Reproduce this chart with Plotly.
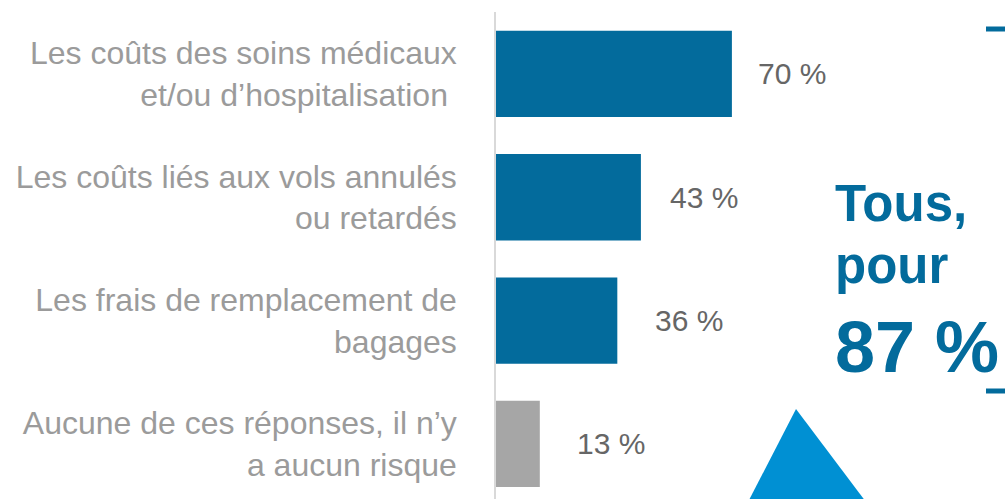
import plotly.graph_objects as go

categories = [
    "Les coûts des soins médicaux<br>et/ou d’hospitalisation\u00a0",
    "Les coûts liés aux vols annulés<br>ou retardés",
    "Les frais de remplacement de<br>bagages",
    "Aucune de ces réponses, il n’y<br>a aucun risque",
]
values = [70, 43, 36, 13]
value_labels = ["70 %", "43 %", "36 %", "13 %"]
callout_lines = ["Tous,", "pour", "87 %"]

W, H = 1005, 499
BLUE = "#036b9c"
GREY_BAR = "#a6a6a6"
TEXT_GREY = "#9b9b9b"
VALUE_GREY = "#666666"

bar_colors = [BLUE, BLUE, BLUE, GREY_BAR]
label_shift = [24, 27, 36, 35]

fig = go.Figure()
fig.add_trace(go.Bar(
    y=categories, x=values, orientation="h",
    marker=dict(color=bar_colors, line=dict(width=0)),
    hoverinfo="skip",
))

for c, v, t, s in zip(categories, values, value_labels, label_shift):
    fig.add_annotation(
        x=v, y=c, xref="x", yref="y", text=t, showarrow=False,
        xanchor="left", yanchor="middle", xshift=s,
        font=dict(family="Liberation Sans, Arial", size=30, color=VALUE_GREY),
    )

def px(xp):
    return xp / W

def py(yp):
    return 1 - yp / H

callout_specs = [(callout_lines[0], 203, 51), (callout_lines[1], 265, 51), (callout_lines[2], 347, 72)]
for text, yc, size in callout_specs:
    fig.add_annotation(
        x=px(833), y=py(yc), xref="paper", yref="paper", text=text,
        showarrow=False, xanchor="left", yanchor="middle",
        font=dict(family="Liberation Sans, Arial", size=size, color=BLUE, weight="bold"),
    )

# bracket ends
for yl in (29, 391):
    fig.add_shape(type="line", xref="paper", yref="paper",
                  x0=px(986), x1=px(1005), y0=py(yl), y1=py(yl),
                  line=dict(color=BLUE, width=5))

# triangle
fig.add_shape(type="path", xref="paper", yref="paper",
              path=f"M {px(796)} {py(409)} L {px(866)} {py(502)} L {px(748)} {py(502)} Z",
              fillcolor="#0090d3", line=dict(width=0))

fig.update_layout(
    width=W, height=H,
    margin=dict(l=0, r=0, t=0, b=0, autoexpand=False),
    paper_bgcolor="white", plot_bgcolor="white",
    showlegend=False,
    bargap=0.30,
    xaxis=dict(domain=[496 / W, 1], range=[0, (W - 496) / 3.37],
               showgrid=False, zeroline=False, showticklabels=False,
               showline=False, fixedrange=True),
    yaxis=dict(domain=[0, 1 - 12.3 / H], autorange=False,
               range=[(H - 74) / 123.3, -0.5],
               categoryorder="array", categoryarray=categories,
               showgrid=False, zeroline=False,
               showline=True, linecolor="#d9d9d9", linewidth=1.5,
               ticks="", ticklabelstandoff=31, automargin=False,
               tickfont=dict(family="Liberation Sans, Arial", size=32, color=TEXT_GREY)),
)

fig.write_html(
    "out.html",
    config={"displayModeBar": False},
    post_script="document.body.style.margin='0';document.body.style.overflow='hidden';",
)
